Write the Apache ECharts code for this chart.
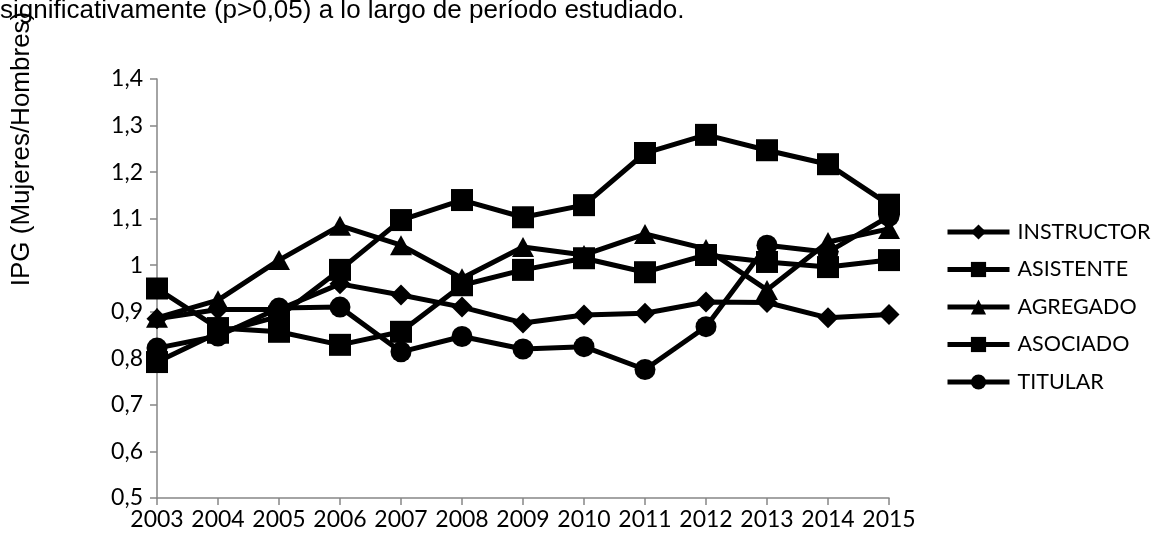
<!DOCTYPE html>
<html><head><meta charset="utf-8">
<script src="https://cdn.jsdelivr.net/npm/echarts@6/dist/echarts.min.js"></script>
<style>html,body{margin:0;padding:0;background:#fff}#c{width:1157px;height:547px}</style>
</head><body><div id="c"></div>
<script>
const years = ['2003','2004','2005','2006','2007','2008','2009','2010','2011','2012','2013','2014','2015'];
const instructor = [0.885,0.905,0.905,0.96,0.936,0.91,0.876,0.893,0.897,0.921,0.92,0.887,0.894];
const asistente  = [0.95,0.865,0.857,0.829,0.857,0.957,0.99,1.015,0.985,1.022,1.007,0.996,1.011];
const agregado   = [0.887,0.925,1.011,1.085,1.043,0.972,1.039,1.022,1.067,1.035,0.947,1.05,1.078];
const asociado   = [0.792,0.855,0.89,0.99,1.097,1.14,1.103,1.129,1.241,1.28,1.247,1.217,1.13];
const titular    = [0.822,0.848,0.908,0.91,0.814,0.847,0.82,0.825,0.776,0.868,1.043,1.028,1.105];
const seriesNames = ['INSTRUCTOR','ASISTENTE','AGREGADO','ASOCIADO','TITULAR'];
const yTitle = 'IPG (Mujeres/Hombres)';
const topText = 'significativamente (p>0,05) a lo largo de período estudiado.';

const chart = echarts.init(document.getElementById('c'), null, {renderer:'canvas'});
const symbols = ['diamond','rect','triangle','rect','circle'];
const sizes = [[21,21],[22,22],[22,20],[22,22],[21,21]];
const datas = [instructor, asistente, agregado, asociado, titular];
const series = seriesNames.map((n,i)=>({
  name:n, type:'line', data:datas[i], symbol:symbols[i], symbolSize:sizes[i],
  showAllSymbol:true, animation:false,
  lineStyle:{color:'#000', width:5},
  itemStyle:{color:'#000'}
}));
chart.setOption({
  animation:false,
  grid:{left:157, right:268, top:79, bottom:49, containLabel:false},
  xAxis:{type:'category', data:years, boundaryGap:false,
    axisLine:{lineStyle:{color:'#868686', width:1.5}},
    axisTick:{show:true, length:7, lineStyle:{color:'#868686', width:1.5}},
    axisLabel:{color:'#000', fontFamily:'Lato', fontSize:23, margin:10, interval:0}
  },
  yAxis:{type:'value', min:0.5, max:1.4, interval:0.1,
    axisLine:{show:true, lineStyle:{color:'#868686', width:1.5}},
    axisTick:{show:true, length:7, lineStyle:{color:'#868686', width:1.5}},
    splitLine:{show:false},
    axisLabel:{color:'#000', fontFamily:'Lato', fontSize:23, margin:14,
      formatter:v=>String(+v.toFixed(1)).replace('.',',')}
  },
  legend:{orient:'vertical', left:945, top:221, padding:0, data:seriesNames,
    itemWidth:62, itemHeight:19, itemGap:15.5,
    lineStyle:{width:5, color:'#000'},
    textStyle:{color:'#000', fontFamily:'Lato', fontSize:21.5, lineHeight:22, padding:[0,0,0,3]}
  },
  graphic:[
    {type:'text', left:0, top:-2, style:{text:topText, fill:'#000', font:'26px "Liberation Sans"'}},
    {type:'text', x:22, y:149, rotation:Math.PI/2,
      style:{text:yTitle, fill:'#000', font:'26px "Liberation Sans"', align:'center', verticalAlign:'middle'}}
  ],
  series:series
});
</script></body></html>
